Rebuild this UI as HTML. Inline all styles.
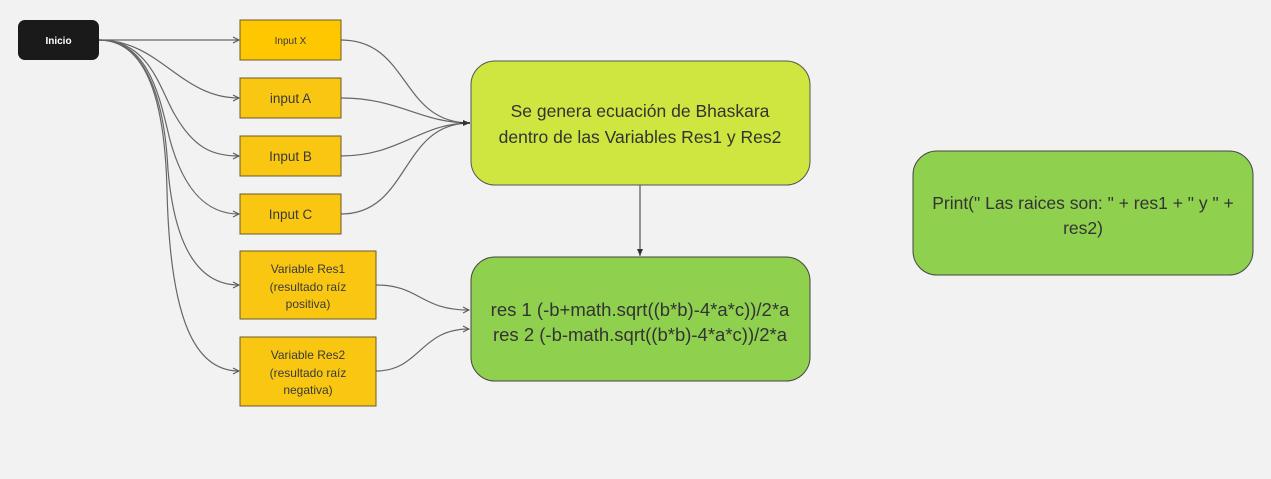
<!DOCTYPE html>
<html><head><meta charset="utf-8"><style>
html,body{margin:0;padding:0;background:#f2f2f2;}
svg{display:block;}
text{font-family:"Liberation Sans",sans-serif;}
</style></head><body>
<svg width="1271" height="479" viewBox="0 0 1271 479" xmlns="http://www.w3.org/2000/svg">
<defs>
<marker id="a" markerWidth="8" markerHeight="8" refX="7" refY="4" orient="auto" markerUnits="userSpaceOnUse">
<path d="M1,1 L7,4 L1,7" fill="none" stroke="#555" stroke-width="1"/>
</marker>
<marker id="f" markerWidth="8" markerHeight="8" refX="7" refY="4" orient="auto" markerUnits="userSpaceOnUse">
<path d="M0,1 L7,4 L0,7 Z" fill="#333"/>
</marker>
</defs>
<rect width="1271" height="479" fill="#f2f2f2"/>
<g fill="none" stroke="#666" stroke-width="1.2">
<path d="M99,40 L239,40" marker-end="url(#a)"/>
<path d="M99,40 C160,40 180,98 239,98" marker-end="url(#a)"/>
<path d="M99,40 C150,40 160,90 175,115 C195,150 215,156 239,156" marker-end="url(#a)"/>
<path d="M99,40 C150,40 160,100 170,140 C185,195 210,214 239,214" marker-end="url(#a)"/>
<path d="M99,40 C150,40 165,110 168,170 C175,250 200,285 239,285" marker-end="url(#a)"/>
<path d="M99,40 C150,40 165,110 167,190 C170,320 195,371 239,371" marker-end="url(#a)"/>
<path d="M341,40 C410,40 400,123 470,123"/>
<path d="M341,98 C400,98 420,123 470,123"/>
<path d="M341,156 C400,156 420,123 470,123"/>
<path d="M341,214 C410,214 400,123 470,123"/>
<path d="M376,285 C420,285 420,310 469,310" marker-end="url(#a)"/>
<path d="M376,371 C420,371 420,329 469,329" marker-end="url(#a)"/>
<path d="M640,185 L640,256" stroke="#555" marker-end="url(#f)"/>
</g>
<path d="M460,123 L470,123" stroke="#333" stroke-width="1.5" marker-end="url(#f)"/>
<rect x="18" y="20" width="81" height="40" rx="7" fill="#1a1a1a"/>
<text x="58.5" y="44" font-size="10" font-weight="bold" fill="#fff" text-anchor="middle">Inicio</text>
<g stroke="#6b5a2a" stroke-width="1">
<rect x="240" y="20" width="101" height="40" fill="#ffc700"/>
<rect x="240" y="78" width="101" height="40" fill="#f9c712"/>
<rect x="240" y="136" width="101" height="40" fill="#f9c712"/>
<rect x="240" y="194" width="101" height="40" fill="#f9c712"/>
<rect x="240" y="251" width="136" height="68" fill="#f9c712"/>
<rect x="240" y="337" width="136" height="69" fill="#f9c712"/>
</g>
<g fill="#3a3a3a" text-anchor="middle">
<text x="290.5" y="44" font-size="10">Input X</text>
<text x="290.5" y="103" font-size="13.5">input A</text>
<text x="290.5" y="161" font-size="13.5">Input B</text>
<text x="290.5" y="219" font-size="13.5">Input C</text>
<text x="308" y="273" font-size="12">Variable Res1</text>
<text x="308" y="291" font-size="12">(resultado raíz</text>
<text x="308" y="308" font-size="12">positiva)</text>
<text x="308" y="359" font-size="12">Variable Res2</text>
<text x="308" y="377" font-size="12">(resultado raíz</text>
<text x="308" y="394" font-size="12">negativa)</text>
</g>
<rect x="471" y="61" width="339" height="124" rx="24" fill="#cfe540" stroke="#555" stroke-width="1"/>
<rect x="471" y="257" width="339" height="124" rx="24" fill="#8fd14f" stroke="#444" stroke-width="1"/>
<rect x="913" y="151" width="340" height="124" rx="24" fill="#8fd14f" stroke="#444" stroke-width="1"/>
<g fill="#333" text-anchor="middle">
<text x="640" y="117" font-size="17.5">Se genera ecuación de Bhaskara</text>
<text x="640" y="143" font-size="17.5">dentro de las Variables Res1 y Res2</text>
<text x="640" y="316" font-size="18.5">res 1 (-b+math.sqrt((b*b)-4*a*c))/2*a</text>
<text x="640" y="341" font-size="18.5">res 2 (-b-math.sqrt((b*b)-4*a*c))/2*a</text>
<text x="1083" y="209" font-size="17.5">Print(" Las raices son: " + res1 + "  y " +</text>
<text x="1083" y="234" font-size="17.5">res2)</text>
</g>
</svg>
</body></html>
